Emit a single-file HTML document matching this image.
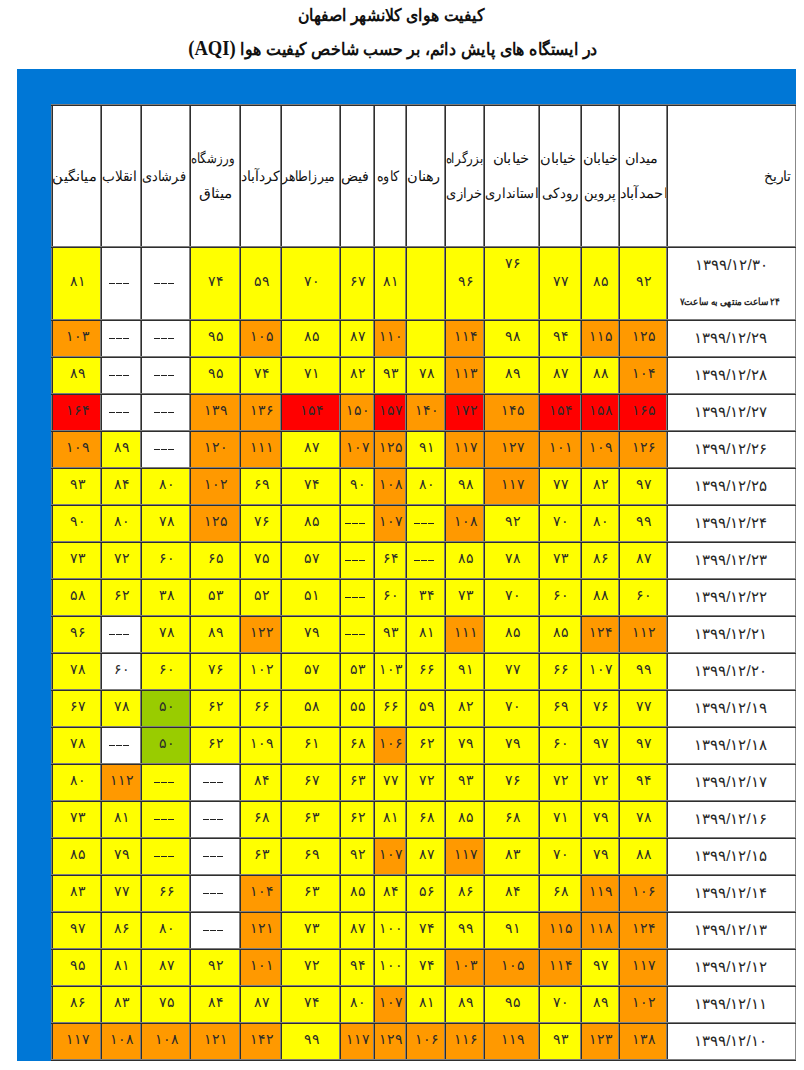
<!DOCTYPE html>
<html lang="fa"><head><meta charset="utf-8"><title>AQI Isfahan</title>
<style>
html,body{margin:0;padding:0;background:#fff}
body{width:804px;height:1070px;position:relative;font-family:"Liberation Sans",sans-serif;color:#111}
.t{position:absolute;left:0;width:804px;text-align:center;font-weight:bold;white-space:nowrap;direction:rtl}
.blue{position:absolute;left:17px;top:69px;width:779px;height:992px;background:#0077d6}
.c{position:absolute;display:flex;align-items:center;justify-content:center;text-align:center;direction:rtl;font-size:14px;line-height:16px;overflow:visible;white-space:nowrap}
.h{font-size:14px;line-height:35px}
.d{font-size:15px;color:#262626}
.n{font-size:14px}
.nv{position:relative;top:-3px;left:1px;color:#2a2a2a}
.dt{display:inline-block;position:relative;top:-1px;left:-1px}
.dash{display:inline-block;position:relative;left:-2px;width:20px;height:1px;background:repeating-linear-gradient(90deg,#222 0 6px,transparent 6px 7px);color:transparent;font-size:1px;overflow:hidden}
.vl{position:absolute;top:104px;height:957px;width:1px}
.hl{position:absolute;left:51px;width:745px;height:1px}
.lt{background:#7c7c7c}.dk{background:#2e2e2e}
</style></head><body><div id="pg" style="position:absolute;left:0;top:0;width:804px;height:1070px;overflow:hidden">
<div class="t" style="top:5px;font-size:17px;line-height:22px;left:-11px;transform:scaleX(0.92)">کیفیت هوای کلانشهر اصفهان</div>
<div class="t" style="top:37px;font-size:17px;line-height:22px;left:-9px;transform:scaleX(0.93)">در ایستگاه های پایش دائم، بر حسب شاخص کیفیت هوا <b style="font-family:'Liberation Serif',serif;font-size:20px">(AQI)</b></div>
<div class="blue"></div>
<div class="c h" style="left:53px;top:106px;width:47px;height:140px;background:#fff;"><div><span style="display:inline-block;transform:translateX(-1.9px) scaleX(1.042)">میانگین</span></div></div>
<div class="c h" style="left:102px;top:106px;width:38px;height:140px;background:#fff;"><div><span style="display:inline-block;transform:translateX(-1.4px) scaleX(0.976)">انقلاب</span></div></div>
<div class="c h" style="left:142px;top:106px;width:47px;height:140px;background:#fff;"><div><span style="display:inline-block;transform:translateX(-1.8px) scaleX(0.920)">فرشادی</span></div></div>
<div class="c h" style="left:191px;top:106px;width:48px;height:140px;background:#fff;"><div><span style="display:inline-block;transform:translateX(-2.1px) scaleX(0.836)">ورزشگاه</span><br><span style="display:inline-block;transform:translateX(0.3px) scaleX(1.096)">میثاق</span></div></div>
<div class="c h" style="left:241px;top:106px;width:39px;height:140px;background:#fff;"><div><span style="display:inline-block;transform:translateX(0.4px) scaleX(1.000)">کردآباد</span></div></div>
<div class="c h" style="left:282px;top:106px;width:57px;height:140px;background:#fff;"><div><span style="display:inline-block;transform:translateX(-2.1px) scaleX(0.876)">میرزاطاهر</span></div></div>
<div class="c h" style="left:341px;top:106px;width:32px;height:140px;background:#fff;"><div><span style="display:inline-block;transform:translateX(-2.2px) scaleX(1.015)">فیض</span></div></div>
<div class="c h" style="left:375px;top:106px;width:30px;height:140px;background:#fff;"><div><span style="display:inline-block;transform:translateX(-2.1px) scaleX(0.904)">کاوه</span></div></div>
<div class="c h" style="left:407px;top:106px;width:37px;height:140px;background:#fff;"><div><span style="display:inline-block;transform:translateX(-2.1px) scaleX(1.037)">رهنان</span></div></div>
<div class="c h" style="left:446px;top:106px;width:37px;height:140px;background:#fff;"><div><span style="display:inline-block;transform:translateX(-0.0px) scaleX(0.844)">بزرگراه</span><br><span style="display:inline-block;transform:translateX(0.1px) scaleX(0.932)">خرازی</span></div></div>
<div class="c h" style="left:485px;top:106px;width:53px;height:140px;background:#fff;"><div><span style="display:inline-block;transform:translateX(-0.4px) scaleX(1.058)">خیابان</span><br><span style="display:inline-block;transform:translateX(0.2px) scaleX(0.936)">استانداری</span></div></div>
<div class="c h" style="left:540px;top:106px;width:40px;height:140px;background:#fff;"><div><span style="display:inline-block;transform:translateX(-2.0px) scaleX(1.033)">خیابان</span><br><span style="display:inline-block;transform:translateX(0.0px) scaleX(0.954)">رودکی</span></div></div>
<div class="c h" style="left:582px;top:106px;width:36px;height:140px;background:#fff;"><div><span style="display:inline-block;transform:translateX(0.1px) scaleX(1.024)">خیابان</span><br><span style="display:inline-block;transform:translateX(-0.0px) scaleX(0.930)">پروین</span></div></div>
<div class="c h" style="left:620px;top:106px;width:46px;height:140px;background:#fff;"><div><span style="display:inline-block;transform:translateX(-2.0px) scaleX(1.023)">میدان</span><br><span style="display:inline-block;transform:translateX(0.8px) scaleX(1.052)">احمدآباد</span></div></div>
<div class="c h" style="left:668px;top:106px;width:127px;height:140px;background:#fff;"><div><span style="display:inline-block;transform:translateX(45.5px) scaleX(0.989)">تاریخ</span></div></div>
<div class="c n" style="left:53px;top:248px;width:47px;height:71px;background:#ffff00;"><span class="nv">۸۱</span></div>
<div class="c n" style="left:102px;top:248px;width:38px;height:71px;background:#ffffff;"><span class="dash">---</span></div>
<div class="c n" style="left:142px;top:248px;width:47px;height:71px;background:#ffffff;"><span class="dash">---</span></div>
<div class="c n" style="left:191px;top:248px;width:48px;height:71px;background:#ffff00;"><span class="nv">۷۴</span></div>
<div class="c n" style="left:241px;top:248px;width:39px;height:71px;background:#ffff00;"><span class="nv">۵۹</span></div>
<div class="c n" style="left:282px;top:248px;width:57px;height:71px;background:#ffff00;"><span class="nv">۷۰</span></div>
<div class="c n" style="left:341px;top:248px;width:32px;height:71px;background:#ffff00;"><span class="nv">۶۷</span></div>
<div class="c n" style="left:375px;top:248px;width:30px;height:71px;background:#ffff00;"><span class="nv">۸۱</span></div>
<div class="c n" style="left:407px;top:248px;width:37px;height:71px;background:#ffff00;"></div>
<div class="c n" style="left:446px;top:248px;width:37px;height:71px;background:#ffff00;"><span class="nv">۹۶</span></div>
<div class="c n" style="left:485px;top:248px;width:53px;height:71px;background:#ffff00;align-items:flex-start;padding-top:10px;box-sizing:border-box"><span class="nv">۷۶</span></div>
<div class="c n" style="left:540px;top:248px;width:40px;height:71px;background:#ffff00;"><span class="nv">۷۷</span></div>
<div class="c n" style="left:582px;top:248px;width:36px;height:71px;background:#ffff00;"><span class="nv">۸۵</span></div>
<div class="c n" style="left:620px;top:248px;width:46px;height:71px;background:#ffff00;"><span class="nv">۹۲</span></div>
<div class="c d" style="left:668px;top:248px;width:127px;height:71px;background:#fff;"><div><div>۱۳۹۹/۱۲/۳۰</div><div style="font-size:10px;font-weight:bold;margin-top:21px;transform:translateX(-1.4px) scaleX(0.885)">۲۴ ساعت منتهی به ساعت۷</div></div></div>
<div class="c n" style="left:53px;top:321px;width:47px;height:35px;background:#ff9900;"><span class="nv">۱۰۳</span></div>
<div class="c n" style="left:102px;top:321px;width:38px;height:35px;background:#ffffff;"><span class="dash">---</span></div>
<div class="c n" style="left:142px;top:321px;width:47px;height:35px;background:#ffffff;"><span class="dash">---</span></div>
<div class="c n" style="left:191px;top:321px;width:48px;height:35px;background:#ffff00;"><span class="nv">۹۵</span></div>
<div class="c n" style="left:241px;top:321px;width:39px;height:35px;background:#ff9900;"><span class="nv">۱۰۵</span></div>
<div class="c n" style="left:282px;top:321px;width:57px;height:35px;background:#ffff00;"><span class="nv">۸۵</span></div>
<div class="c n" style="left:341px;top:321px;width:32px;height:35px;background:#ffff00;"><span class="nv">۸۷</span></div>
<div class="c n" style="left:375px;top:321px;width:30px;height:35px;background:#ff9900;"><span class="nv">۱۱۰</span></div>
<div class="c n" style="left:407px;top:321px;width:37px;height:35px;background:#ffff00;"></div>
<div class="c n" style="left:446px;top:321px;width:37px;height:35px;background:#ff9900;"><span class="nv">۱۱۴</span></div>
<div class="c n" style="left:485px;top:321px;width:53px;height:35px;background:#ffff00;"><span class="nv">۹۸</span></div>
<div class="c n" style="left:540px;top:321px;width:40px;height:35px;background:#ffff00;"><span class="nv">۹۴</span></div>
<div class="c n" style="left:582px;top:321px;width:36px;height:35px;background:#ff9900;"><span class="nv">۱۱۵</span></div>
<div class="c n" style="left:620px;top:321px;width:46px;height:35px;background:#ff9900;"><span class="nv">۱۲۵</span></div>
<div class="c d" style="left:668px;top:321px;width:127px;height:35px;background:#fff;"><span class="dt">۱۳۹۹/۱۲/۲۹</span></div>
<div class="c n" style="left:53px;top:358px;width:47px;height:35px;background:#ffff00;"><span class="nv">۸۹</span></div>
<div class="c n" style="left:102px;top:358px;width:38px;height:35px;background:#ffffff;"><span class="dash">---</span></div>
<div class="c n" style="left:142px;top:358px;width:47px;height:35px;background:#ffffff;"><span class="dash">---</span></div>
<div class="c n" style="left:191px;top:358px;width:48px;height:35px;background:#ffff00;"><span class="nv">۹۵</span></div>
<div class="c n" style="left:241px;top:358px;width:39px;height:35px;background:#ffff00;"><span class="nv">۷۴</span></div>
<div class="c n" style="left:282px;top:358px;width:57px;height:35px;background:#ffff00;"><span class="nv">۷۱</span></div>
<div class="c n" style="left:341px;top:358px;width:32px;height:35px;background:#ffff00;"><span class="nv">۸۲</span></div>
<div class="c n" style="left:375px;top:358px;width:30px;height:35px;background:#ffff00;"><span class="nv">۹۳</span></div>
<div class="c n" style="left:407px;top:358px;width:37px;height:35px;background:#ffff00;"><span class="nv">۷۸</span></div>
<div class="c n" style="left:446px;top:358px;width:37px;height:35px;background:#ff9900;"><span class="nv">۱۱۳</span></div>
<div class="c n" style="left:485px;top:358px;width:53px;height:35px;background:#ffff00;"><span class="nv">۸۹</span></div>
<div class="c n" style="left:540px;top:358px;width:40px;height:35px;background:#ffff00;"><span class="nv">۸۷</span></div>
<div class="c n" style="left:582px;top:358px;width:36px;height:35px;background:#ffff00;"><span class="nv">۸۸</span></div>
<div class="c n" style="left:620px;top:358px;width:46px;height:35px;background:#ff9900;"><span class="nv">۱۰۴</span></div>
<div class="c d" style="left:668px;top:358px;width:127px;height:35px;background:#fff;"><span class="dt">۱۳۹۹/۱۲/۲۸</span></div>
<div class="c n" style="left:53px;top:395px;width:47px;height:35px;background:#ff0000;"><span class="nv">۱۶۴</span></div>
<div class="c n" style="left:102px;top:395px;width:38px;height:35px;background:#ffffff;"><span class="dash">---</span></div>
<div class="c n" style="left:142px;top:395px;width:47px;height:35px;background:#ffffff;"><span class="dash">---</span></div>
<div class="c n" style="left:191px;top:395px;width:48px;height:35px;background:#ff9900;"><span class="nv">۱۳۹</span></div>
<div class="c n" style="left:241px;top:395px;width:39px;height:35px;background:#ff9900;"><span class="nv">۱۳۶</span></div>
<div class="c n" style="left:282px;top:395px;width:57px;height:35px;background:#ff0000;"><span class="nv">۱۵۴</span></div>
<div class="c n" style="left:341px;top:395px;width:32px;height:35px;background:#ff9900;"><span class="nv">۱۵۰</span></div>
<div class="c n" style="left:375px;top:395px;width:30px;height:35px;background:#ff0000;"><span class="nv">۱۵۷</span></div>
<div class="c n" style="left:407px;top:395px;width:37px;height:35px;background:#ff9900;"><span class="nv">۱۴۰</span></div>
<div class="c n" style="left:446px;top:395px;width:37px;height:35px;background:#ff0000;"><span class="nv">۱۷۲</span></div>
<div class="c n" style="left:485px;top:395px;width:53px;height:35px;background:#ff9900;"><span class="nv">۱۴۵</span></div>
<div class="c n" style="left:540px;top:395px;width:40px;height:35px;background:#ff0000;"><span class="nv">۱۵۴</span></div>
<div class="c n" style="left:582px;top:395px;width:36px;height:35px;background:#ff0000;"><span class="nv">۱۵۸</span></div>
<div class="c n" style="left:620px;top:395px;width:46px;height:35px;background:#ff0000;"><span class="nv">۱۶۵</span></div>
<div class="c d" style="left:668px;top:395px;width:127px;height:35px;background:#fff;"><span class="dt">۱۳۹۹/۱۲/۲۷</span></div>
<div class="c n" style="left:53px;top:432px;width:47px;height:35px;background:#ff9900;"><span class="nv">۱۰۹</span></div>
<div class="c n" style="left:102px;top:432px;width:38px;height:35px;background:#ffff00;"><span class="nv">۸۹</span></div>
<div class="c n" style="left:142px;top:432px;width:47px;height:35px;background:#ffffff;"><span class="dash">---</span></div>
<div class="c n" style="left:191px;top:432px;width:48px;height:35px;background:#ff9900;"><span class="nv">۱۲۰</span></div>
<div class="c n" style="left:241px;top:432px;width:39px;height:35px;background:#ff9900;"><span class="nv">۱۱۱</span></div>
<div class="c n" style="left:282px;top:432px;width:57px;height:35px;background:#ffff00;"><span class="nv">۸۷</span></div>
<div class="c n" style="left:341px;top:432px;width:32px;height:35px;background:#ff9900;"><span class="nv">۱۰۷</span></div>
<div class="c n" style="left:375px;top:432px;width:30px;height:35px;background:#ff9900;"><span class="nv">۱۲۵</span></div>
<div class="c n" style="left:407px;top:432px;width:37px;height:35px;background:#ffff00;"><span class="nv">۹۱</span></div>
<div class="c n" style="left:446px;top:432px;width:37px;height:35px;background:#ff9900;"><span class="nv">۱۱۷</span></div>
<div class="c n" style="left:485px;top:432px;width:53px;height:35px;background:#ff9900;"><span class="nv">۱۲۷</span></div>
<div class="c n" style="left:540px;top:432px;width:40px;height:35px;background:#ff9900;"><span class="nv">۱۰۱</span></div>
<div class="c n" style="left:582px;top:432px;width:36px;height:35px;background:#ff9900;"><span class="nv">۱۰۹</span></div>
<div class="c n" style="left:620px;top:432px;width:46px;height:35px;background:#ff9900;"><span class="nv">۱۲۶</span></div>
<div class="c d" style="left:668px;top:432px;width:127px;height:35px;background:#fff;"><span class="dt">۱۳۹۹/۱۲/۲۶</span></div>
<div class="c n" style="left:53px;top:469px;width:47px;height:35px;background:#ffff00;"><span class="nv">۹۳</span></div>
<div class="c n" style="left:102px;top:469px;width:38px;height:35px;background:#ffff00;"><span class="nv">۸۴</span></div>
<div class="c n" style="left:142px;top:469px;width:47px;height:35px;background:#ffff00;"><span class="nv">۸۰</span></div>
<div class="c n" style="left:191px;top:469px;width:48px;height:35px;background:#ff9900;"><span class="nv">۱۰۲</span></div>
<div class="c n" style="left:241px;top:469px;width:39px;height:35px;background:#ffff00;"><span class="nv">۶۹</span></div>
<div class="c n" style="left:282px;top:469px;width:57px;height:35px;background:#ffff00;"><span class="nv">۷۴</span></div>
<div class="c n" style="left:341px;top:469px;width:32px;height:35px;background:#ffff00;"><span class="nv">۹۰</span></div>
<div class="c n" style="left:375px;top:469px;width:30px;height:35px;background:#ff9900;"><span class="nv">۱۰۸</span></div>
<div class="c n" style="left:407px;top:469px;width:37px;height:35px;background:#ffff00;"><span class="nv">۸۰</span></div>
<div class="c n" style="left:446px;top:469px;width:37px;height:35px;background:#ffff00;"><span class="nv">۹۸</span></div>
<div class="c n" style="left:485px;top:469px;width:53px;height:35px;background:#ff9900;"><span class="nv">۱۱۷</span></div>
<div class="c n" style="left:540px;top:469px;width:40px;height:35px;background:#ffff00;"><span class="nv">۷۷</span></div>
<div class="c n" style="left:582px;top:469px;width:36px;height:35px;background:#ffff00;"><span class="nv">۸۲</span></div>
<div class="c n" style="left:620px;top:469px;width:46px;height:35px;background:#ffff00;"><span class="nv">۹۷</span></div>
<div class="c d" style="left:668px;top:469px;width:127px;height:35px;background:#fff;"><span class="dt">۱۳۹۹/۱۲/۲۵</span></div>
<div class="c n" style="left:53px;top:506px;width:47px;height:35px;background:#ffff00;"><span class="nv">۹۰</span></div>
<div class="c n" style="left:102px;top:506px;width:38px;height:35px;background:#ffff00;"><span class="nv">۸۰</span></div>
<div class="c n" style="left:142px;top:506px;width:47px;height:35px;background:#ffff00;"><span class="nv">۷۸</span></div>
<div class="c n" style="left:191px;top:506px;width:48px;height:35px;background:#ff9900;"><span class="nv">۱۲۵</span></div>
<div class="c n" style="left:241px;top:506px;width:39px;height:35px;background:#ffff00;"><span class="nv">۷۶</span></div>
<div class="c n" style="left:282px;top:506px;width:57px;height:35px;background:#ffff00;"><span class="nv">۸۵</span></div>
<div class="c n" style="left:341px;top:506px;width:32px;height:35px;background:#ffff00;"><span class="dash">---</span></div>
<div class="c n" style="left:375px;top:506px;width:30px;height:35px;background:#ff9900;"><span class="nv">۱۰۷</span></div>
<div class="c n" style="left:407px;top:506px;width:37px;height:35px;background:#ffff00;"><span class="dash">---</span></div>
<div class="c n" style="left:446px;top:506px;width:37px;height:35px;background:#ff9900;"><span class="nv">۱۰۸</span></div>
<div class="c n" style="left:485px;top:506px;width:53px;height:35px;background:#ffff00;"><span class="nv">۹۲</span></div>
<div class="c n" style="left:540px;top:506px;width:40px;height:35px;background:#ffff00;"><span class="nv">۷۰</span></div>
<div class="c n" style="left:582px;top:506px;width:36px;height:35px;background:#ffff00;"><span class="nv">۸۰</span></div>
<div class="c n" style="left:620px;top:506px;width:46px;height:35px;background:#ffff00;"><span class="nv">۹۹</span></div>
<div class="c d" style="left:668px;top:506px;width:127px;height:35px;background:#fff;"><span class="dt">۱۳۹۹/۱۲/۲۴</span></div>
<div class="c n" style="left:53px;top:543px;width:47px;height:35px;background:#ffff00;"><span class="nv">۷۳</span></div>
<div class="c n" style="left:102px;top:543px;width:38px;height:35px;background:#ffff00;"><span class="nv">۷۲</span></div>
<div class="c n" style="left:142px;top:543px;width:47px;height:35px;background:#ffff00;"><span class="nv">۶۰</span></div>
<div class="c n" style="left:191px;top:543px;width:48px;height:35px;background:#ffff00;"><span class="nv">۶۵</span></div>
<div class="c n" style="left:241px;top:543px;width:39px;height:35px;background:#ffff00;"><span class="nv">۷۵</span></div>
<div class="c n" style="left:282px;top:543px;width:57px;height:35px;background:#ffff00;"><span class="nv">۵۷</span></div>
<div class="c n" style="left:341px;top:543px;width:32px;height:35px;background:#ffff00;"><span class="dash">---</span></div>
<div class="c n" style="left:375px;top:543px;width:30px;height:35px;background:#ffff00;"><span class="nv">۶۴</span></div>
<div class="c n" style="left:407px;top:543px;width:37px;height:35px;background:#ffff00;"><span class="dash">---</span></div>
<div class="c n" style="left:446px;top:543px;width:37px;height:35px;background:#ffff00;"><span class="nv">۸۵</span></div>
<div class="c n" style="left:485px;top:543px;width:53px;height:35px;background:#ffff00;"><span class="nv">۷۸</span></div>
<div class="c n" style="left:540px;top:543px;width:40px;height:35px;background:#ffff00;"><span class="nv">۷۳</span></div>
<div class="c n" style="left:582px;top:543px;width:36px;height:35px;background:#ffff00;"><span class="nv">۸۶</span></div>
<div class="c n" style="left:620px;top:543px;width:46px;height:35px;background:#ffff00;"><span class="nv">۸۷</span></div>
<div class="c d" style="left:668px;top:543px;width:127px;height:35px;background:#fff;"><span class="dt">۱۳۹۹/۱۲/۲۳</span></div>
<div class="c n" style="left:53px;top:580px;width:47px;height:35px;background:#ffff00;"><span class="nv">۵۸</span></div>
<div class="c n" style="left:102px;top:580px;width:38px;height:35px;background:#ffff00;"><span class="nv">۶۲</span></div>
<div class="c n" style="left:142px;top:580px;width:47px;height:35px;background:#ffff00;"><span class="nv">۳۸</span></div>
<div class="c n" style="left:191px;top:580px;width:48px;height:35px;background:#ffff00;"><span class="nv">۵۳</span></div>
<div class="c n" style="left:241px;top:580px;width:39px;height:35px;background:#ffff00;"><span class="nv">۵۲</span></div>
<div class="c n" style="left:282px;top:580px;width:57px;height:35px;background:#ffff00;"><span class="nv">۵۱</span></div>
<div class="c n" style="left:341px;top:580px;width:32px;height:35px;background:#ffff00;"><span class="dash">---</span></div>
<div class="c n" style="left:375px;top:580px;width:30px;height:35px;background:#ffff00;"><span class="nv">۶۰</span></div>
<div class="c n" style="left:407px;top:580px;width:37px;height:35px;background:#ffff00;"><span class="nv">۳۴</span></div>
<div class="c n" style="left:446px;top:580px;width:37px;height:35px;background:#ffff00;"><span class="nv">۷۳</span></div>
<div class="c n" style="left:485px;top:580px;width:53px;height:35px;background:#ffff00;"><span class="nv">۷۰</span></div>
<div class="c n" style="left:540px;top:580px;width:40px;height:35px;background:#ffff00;"><span class="nv">۶۰</span></div>
<div class="c n" style="left:582px;top:580px;width:36px;height:35px;background:#ffff00;"><span class="nv">۸۸</span></div>
<div class="c n" style="left:620px;top:580px;width:46px;height:35px;background:#ffff00;"><span class="nv">۶۰</span></div>
<div class="c d" style="left:668px;top:580px;width:127px;height:35px;background:#fff;"><span class="dt">۱۳۹۹/۱۲/۲۲</span></div>
<div class="c n" style="left:53px;top:617px;width:47px;height:35px;background:#ffff00;"><span class="nv">۹۶</span></div>
<div class="c n" style="left:102px;top:617px;width:38px;height:35px;background:#ffffff;"><span class="dash">---</span></div>
<div class="c n" style="left:142px;top:617px;width:47px;height:35px;background:#ffff00;"><span class="nv">۷۸</span></div>
<div class="c n" style="left:191px;top:617px;width:48px;height:35px;background:#ffff00;"><span class="nv">۸۹</span></div>
<div class="c n" style="left:241px;top:617px;width:39px;height:35px;background:#ff9900;"><span class="nv">۱۲۲</span></div>
<div class="c n" style="left:282px;top:617px;width:57px;height:35px;background:#ffff00;"><span class="nv">۷۹</span></div>
<div class="c n" style="left:341px;top:617px;width:32px;height:35px;background:#ffff00;"><span class="dash">---</span></div>
<div class="c n" style="left:375px;top:617px;width:30px;height:35px;background:#ffff00;"><span class="nv">۹۳</span></div>
<div class="c n" style="left:407px;top:617px;width:37px;height:35px;background:#ffff00;"><span class="nv">۸۱</span></div>
<div class="c n" style="left:446px;top:617px;width:37px;height:35px;background:#ff9900;"><span class="nv">۱۱۱</span></div>
<div class="c n" style="left:485px;top:617px;width:53px;height:35px;background:#ffff00;"><span class="nv">۸۵</span></div>
<div class="c n" style="left:540px;top:617px;width:40px;height:35px;background:#ffff00;"><span class="nv">۸۵</span></div>
<div class="c n" style="left:582px;top:617px;width:36px;height:35px;background:#ff9900;"><span class="nv">۱۲۴</span></div>
<div class="c n" style="left:620px;top:617px;width:46px;height:35px;background:#ff9900;"><span class="nv">۱۱۲</span></div>
<div class="c d" style="left:668px;top:617px;width:127px;height:35px;background:#fff;"><span class="dt">۱۳۹۹/۱۲/۲۱</span></div>
<div class="c n" style="left:53px;top:654px;width:47px;height:35px;background:#ffff00;"><span class="nv">۷۸</span></div>
<div class="c n" style="left:102px;top:654px;width:38px;height:35px;background:#ffffff;"><span class="nv">۶۰</span></div>
<div class="c n" style="left:142px;top:654px;width:47px;height:35px;background:#ffff00;"><span class="nv">۶۰</span></div>
<div class="c n" style="left:191px;top:654px;width:48px;height:35px;background:#ffff00;"><span class="nv">۷۶</span></div>
<div class="c n" style="left:241px;top:654px;width:39px;height:35px;background:#ffff00;"><span class="nv">۱۰۲</span></div>
<div class="c n" style="left:282px;top:654px;width:57px;height:35px;background:#ffff00;"><span class="nv">۵۷</span></div>
<div class="c n" style="left:341px;top:654px;width:32px;height:35px;background:#ffff00;"><span class="nv">۵۳</span></div>
<div class="c n" style="left:375px;top:654px;width:30px;height:35px;background:#ffff00;"><span class="nv">۱۰۳</span></div>
<div class="c n" style="left:407px;top:654px;width:37px;height:35px;background:#ffff00;"><span class="nv">۶۶</span></div>
<div class="c n" style="left:446px;top:654px;width:37px;height:35px;background:#ffff00;"><span class="nv">۹۱</span></div>
<div class="c n" style="left:485px;top:654px;width:53px;height:35px;background:#ffff00;"><span class="nv">۷۷</span></div>
<div class="c n" style="left:540px;top:654px;width:40px;height:35px;background:#ffff00;"><span class="nv">۶۶</span></div>
<div class="c n" style="left:582px;top:654px;width:36px;height:35px;background:#ffff00;"><span class="nv">۱۰۷</span></div>
<div class="c n" style="left:620px;top:654px;width:46px;height:35px;background:#ffff00;"><span class="nv">۹۹</span></div>
<div class="c d" style="left:668px;top:654px;width:127px;height:35px;background:#fff;"><span class="dt">۱۳۹۹/۱۲/۲۰</span></div>
<div class="c n" style="left:53px;top:691px;width:47px;height:35px;background:#ffff00;"><span class="nv">۶۷</span></div>
<div class="c n" style="left:102px;top:691px;width:38px;height:35px;background:#ffff00;"><span class="nv">۷۸</span></div>
<div class="c n" style="left:142px;top:691px;width:47px;height:35px;background:#99cc00;"><span class="nv">۵۰</span></div>
<div class="c n" style="left:191px;top:691px;width:48px;height:35px;background:#ffff00;"><span class="nv">۶۲</span></div>
<div class="c n" style="left:241px;top:691px;width:39px;height:35px;background:#ffff00;"><span class="nv">۶۶</span></div>
<div class="c n" style="left:282px;top:691px;width:57px;height:35px;background:#ffff00;"><span class="nv">۵۸</span></div>
<div class="c n" style="left:341px;top:691px;width:32px;height:35px;background:#ffff00;"><span class="nv">۵۵</span></div>
<div class="c n" style="left:375px;top:691px;width:30px;height:35px;background:#ffff00;"><span class="nv">۶۶</span></div>
<div class="c n" style="left:407px;top:691px;width:37px;height:35px;background:#ffff00;"><span class="nv">۵۹</span></div>
<div class="c n" style="left:446px;top:691px;width:37px;height:35px;background:#ffff00;"><span class="nv">۸۲</span></div>
<div class="c n" style="left:485px;top:691px;width:53px;height:35px;background:#ffff00;"><span class="nv">۷۰</span></div>
<div class="c n" style="left:540px;top:691px;width:40px;height:35px;background:#ffff00;"><span class="nv">۶۹</span></div>
<div class="c n" style="left:582px;top:691px;width:36px;height:35px;background:#ffff00;"><span class="nv">۷۶</span></div>
<div class="c n" style="left:620px;top:691px;width:46px;height:35px;background:#ffff00;"><span class="nv">۷۷</span></div>
<div class="c d" style="left:668px;top:691px;width:127px;height:35px;background:#fff;"><span class="dt">۱۳۹۹/۱۲/۱۹</span></div>
<div class="c n" style="left:53px;top:728px;width:47px;height:35px;background:#ffff00;"><span class="nv">۷۸</span></div>
<div class="c n" style="left:102px;top:728px;width:38px;height:35px;background:#ffffff;"><span class="dash">---</span></div>
<div class="c n" style="left:142px;top:728px;width:47px;height:35px;background:#99cc00;"><span class="nv">۵۰</span></div>
<div class="c n" style="left:191px;top:728px;width:48px;height:35px;background:#ffff00;"><span class="nv">۶۲</span></div>
<div class="c n" style="left:241px;top:728px;width:39px;height:35px;background:#ffff00;"><span class="nv">۱۰۹</span></div>
<div class="c n" style="left:282px;top:728px;width:57px;height:35px;background:#ffff00;"><span class="nv">۶۱</span></div>
<div class="c n" style="left:341px;top:728px;width:32px;height:35px;background:#ffff00;"><span class="nv">۶۸</span></div>
<div class="c n" style="left:375px;top:728px;width:30px;height:35px;background:#ff9900;"><span class="nv">۱۰۶</span></div>
<div class="c n" style="left:407px;top:728px;width:37px;height:35px;background:#ffff00;"><span class="nv">۶۲</span></div>
<div class="c n" style="left:446px;top:728px;width:37px;height:35px;background:#ffff00;"><span class="nv">۷۹</span></div>
<div class="c n" style="left:485px;top:728px;width:53px;height:35px;background:#ffff00;"><span class="nv">۷۹</span></div>
<div class="c n" style="left:540px;top:728px;width:40px;height:35px;background:#ffff00;"><span class="nv">۶۰</span></div>
<div class="c n" style="left:582px;top:728px;width:36px;height:35px;background:#ffff00;"><span class="nv">۹۷</span></div>
<div class="c n" style="left:620px;top:728px;width:46px;height:35px;background:#ffff00;"><span class="nv">۹۷</span></div>
<div class="c d" style="left:668px;top:728px;width:127px;height:35px;background:#fff;"><span class="dt">۱۳۹۹/۱۲/۱۸</span></div>
<div class="c n" style="left:53px;top:765px;width:47px;height:35px;background:#ffff00;"><span class="nv">۸۰</span></div>
<div class="c n" style="left:102px;top:765px;width:38px;height:35px;background:#ff9900;"><span class="nv">۱۱۲</span></div>
<div class="c n" style="left:142px;top:765px;width:47px;height:35px;background:#ffff00;"><span class="dash">---</span></div>
<div class="c n" style="left:191px;top:765px;width:48px;height:35px;background:#ffffff;"><span class="dash">---</span></div>
<div class="c n" style="left:241px;top:765px;width:39px;height:35px;background:#ffff00;"><span class="nv">۸۴</span></div>
<div class="c n" style="left:282px;top:765px;width:57px;height:35px;background:#ffff00;"><span class="nv">۶۷</span></div>
<div class="c n" style="left:341px;top:765px;width:32px;height:35px;background:#ffff00;"><span class="nv">۶۳</span></div>
<div class="c n" style="left:375px;top:765px;width:30px;height:35px;background:#ffff00;"><span class="nv">۷۷</span></div>
<div class="c n" style="left:407px;top:765px;width:37px;height:35px;background:#ffff00;"><span class="nv">۷۲</span></div>
<div class="c n" style="left:446px;top:765px;width:37px;height:35px;background:#ffff00;"><span class="nv">۹۳</span></div>
<div class="c n" style="left:485px;top:765px;width:53px;height:35px;background:#ffff00;"><span class="nv">۷۶</span></div>
<div class="c n" style="left:540px;top:765px;width:40px;height:35px;background:#ffff00;"><span class="nv">۷۲</span></div>
<div class="c n" style="left:582px;top:765px;width:36px;height:35px;background:#ffff00;"><span class="nv">۷۲</span></div>
<div class="c n" style="left:620px;top:765px;width:46px;height:35px;background:#ffff00;"><span class="nv">۹۴</span></div>
<div class="c d" style="left:668px;top:765px;width:127px;height:35px;background:#fff;"><span class="dt">۱۳۹۹/۱۲/۱۷</span></div>
<div class="c n" style="left:53px;top:802px;width:47px;height:35px;background:#ffff00;"><span class="nv">۷۳</span></div>
<div class="c n" style="left:102px;top:802px;width:38px;height:35px;background:#ffff00;"><span class="nv">۸۱</span></div>
<div class="c n" style="left:142px;top:802px;width:47px;height:35px;background:#ffff00;"><span class="dash">---</span></div>
<div class="c n" style="left:191px;top:802px;width:48px;height:35px;background:#ffffff;"><span class="dash">---</span></div>
<div class="c n" style="left:241px;top:802px;width:39px;height:35px;background:#ffff00;"><span class="nv">۶۸</span></div>
<div class="c n" style="left:282px;top:802px;width:57px;height:35px;background:#ffff00;"><span class="nv">۶۳</span></div>
<div class="c n" style="left:341px;top:802px;width:32px;height:35px;background:#ffff00;"><span class="nv">۶۲</span></div>
<div class="c n" style="left:375px;top:802px;width:30px;height:35px;background:#ffff00;"><span class="nv">۸۱</span></div>
<div class="c n" style="left:407px;top:802px;width:37px;height:35px;background:#ffff00;"><span class="nv">۶۸</span></div>
<div class="c n" style="left:446px;top:802px;width:37px;height:35px;background:#ffff00;"><span class="nv">۸۵</span></div>
<div class="c n" style="left:485px;top:802px;width:53px;height:35px;background:#ffff00;"><span class="nv">۶۸</span></div>
<div class="c n" style="left:540px;top:802px;width:40px;height:35px;background:#ffff00;"><span class="nv">۷۱</span></div>
<div class="c n" style="left:582px;top:802px;width:36px;height:35px;background:#ffff00;"><span class="nv">۷۹</span></div>
<div class="c n" style="left:620px;top:802px;width:46px;height:35px;background:#ffff00;"><span class="nv">۷۸</span></div>
<div class="c d" style="left:668px;top:802px;width:127px;height:35px;background:#fff;"><span class="dt">۱۳۹۹/۱۲/۱۶</span></div>
<div class="c n" style="left:53px;top:839px;width:47px;height:35px;background:#ffff00;"><span class="nv">۸۵</span></div>
<div class="c n" style="left:102px;top:839px;width:38px;height:35px;background:#ffff00;"><span class="nv">۷۹</span></div>
<div class="c n" style="left:142px;top:839px;width:47px;height:35px;background:#ffff00;"><span class="dash">---</span></div>
<div class="c n" style="left:191px;top:839px;width:48px;height:35px;background:#ffffff;"><span class="dash">---</span></div>
<div class="c n" style="left:241px;top:839px;width:39px;height:35px;background:#ffff00;"><span class="nv">۶۳</span></div>
<div class="c n" style="left:282px;top:839px;width:57px;height:35px;background:#ffff00;"><span class="nv">۶۹</span></div>
<div class="c n" style="left:341px;top:839px;width:32px;height:35px;background:#ffff00;"><span class="nv">۹۲</span></div>
<div class="c n" style="left:375px;top:839px;width:30px;height:35px;background:#ff9900;"><span class="nv">۱۰۷</span></div>
<div class="c n" style="left:407px;top:839px;width:37px;height:35px;background:#ffff00;"><span class="nv">۸۷</span></div>
<div class="c n" style="left:446px;top:839px;width:37px;height:35px;background:#ff9900;"><span class="nv">۱۱۷</span></div>
<div class="c n" style="left:485px;top:839px;width:53px;height:35px;background:#ffff00;"><span class="nv">۸۳</span></div>
<div class="c n" style="left:540px;top:839px;width:40px;height:35px;background:#ffff00;"><span class="nv">۷۰</span></div>
<div class="c n" style="left:582px;top:839px;width:36px;height:35px;background:#ffff00;"><span class="nv">۷۹</span></div>
<div class="c n" style="left:620px;top:839px;width:46px;height:35px;background:#ffff00;"><span class="nv">۸۸</span></div>
<div class="c d" style="left:668px;top:839px;width:127px;height:35px;background:#fff;"><span class="dt">۱۳۹۹/۱۲/۱۵</span></div>
<div class="c n" style="left:53px;top:876px;width:47px;height:35px;background:#ffff00;"><span class="nv">۸۳</span></div>
<div class="c n" style="left:102px;top:876px;width:38px;height:35px;background:#ffff00;"><span class="nv">۷۷</span></div>
<div class="c n" style="left:142px;top:876px;width:47px;height:35px;background:#ffff00;"><span class="nv">۶۶</span></div>
<div class="c n" style="left:191px;top:876px;width:48px;height:35px;background:#ffffff;"><span class="dash">---</span></div>
<div class="c n" style="left:241px;top:876px;width:39px;height:35px;background:#ff9900;"><span class="nv">۱۰۴</span></div>
<div class="c n" style="left:282px;top:876px;width:57px;height:35px;background:#ffff00;"><span class="nv">۶۳</span></div>
<div class="c n" style="left:341px;top:876px;width:32px;height:35px;background:#ffff00;"><span class="nv">۸۵</span></div>
<div class="c n" style="left:375px;top:876px;width:30px;height:35px;background:#ffff00;"><span class="nv">۸۴</span></div>
<div class="c n" style="left:407px;top:876px;width:37px;height:35px;background:#ffff00;"><span class="nv">۵۶</span></div>
<div class="c n" style="left:446px;top:876px;width:37px;height:35px;background:#ffff00;"><span class="nv">۸۶</span></div>
<div class="c n" style="left:485px;top:876px;width:53px;height:35px;background:#ffff00;"><span class="nv">۸۴</span></div>
<div class="c n" style="left:540px;top:876px;width:40px;height:35px;background:#ffff00;"><span class="nv">۶۸</span></div>
<div class="c n" style="left:582px;top:876px;width:36px;height:35px;background:#ff9900;"><span class="nv">۱۱۹</span></div>
<div class="c n" style="left:620px;top:876px;width:46px;height:35px;background:#ff9900;"><span class="nv">۱۰۶</span></div>
<div class="c d" style="left:668px;top:876px;width:127px;height:35px;background:#fff;"><span class="dt">۱۳۹۹/۱۲/۱۴</span></div>
<div class="c n" style="left:53px;top:913px;width:47px;height:35px;background:#ffff00;"><span class="nv">۹۷</span></div>
<div class="c n" style="left:102px;top:913px;width:38px;height:35px;background:#ffff00;"><span class="nv">۸۶</span></div>
<div class="c n" style="left:142px;top:913px;width:47px;height:35px;background:#ffff00;"><span class="nv">۸۰</span></div>
<div class="c n" style="left:191px;top:913px;width:48px;height:35px;background:#ffffff;"><span class="dash">---</span></div>
<div class="c n" style="left:241px;top:913px;width:39px;height:35px;background:#ff9900;"><span class="nv">۱۲۱</span></div>
<div class="c n" style="left:282px;top:913px;width:57px;height:35px;background:#ffff00;"><span class="nv">۷۳</span></div>
<div class="c n" style="left:341px;top:913px;width:32px;height:35px;background:#ffff00;"><span class="nv">۸۷</span></div>
<div class="c n" style="left:375px;top:913px;width:30px;height:35px;background:#ffff00;"><span class="nv">۱۰۰</span></div>
<div class="c n" style="left:407px;top:913px;width:37px;height:35px;background:#ffff00;"><span class="nv">۷۴</span></div>
<div class="c n" style="left:446px;top:913px;width:37px;height:35px;background:#ffff00;"><span class="nv">۹۹</span></div>
<div class="c n" style="left:485px;top:913px;width:53px;height:35px;background:#ffff00;"><span class="nv">۹۱</span></div>
<div class="c n" style="left:540px;top:913px;width:40px;height:35px;background:#ff9900;"><span class="nv">۱۱۵</span></div>
<div class="c n" style="left:582px;top:913px;width:36px;height:35px;background:#ff9900;"><span class="nv">۱۱۸</span></div>
<div class="c n" style="left:620px;top:913px;width:46px;height:35px;background:#ff9900;"><span class="nv">۱۲۴</span></div>
<div class="c d" style="left:668px;top:913px;width:127px;height:35px;background:#fff;"><span class="dt">۱۳۹۹/۱۲/۱۳</span></div>
<div class="c n" style="left:53px;top:950px;width:47px;height:35px;background:#ffff00;"><span class="nv">۹۵</span></div>
<div class="c n" style="left:102px;top:950px;width:38px;height:35px;background:#ffff00;"><span class="nv">۸۱</span></div>
<div class="c n" style="left:142px;top:950px;width:47px;height:35px;background:#ffff00;"><span class="nv">۸۷</span></div>
<div class="c n" style="left:191px;top:950px;width:48px;height:35px;background:#ffff00;"><span class="nv">۹۲</span></div>
<div class="c n" style="left:241px;top:950px;width:39px;height:35px;background:#ff9900;"><span class="nv">۱۰۱</span></div>
<div class="c n" style="left:282px;top:950px;width:57px;height:35px;background:#ffff00;"><span class="nv">۷۲</span></div>
<div class="c n" style="left:341px;top:950px;width:32px;height:35px;background:#ffff00;"><span class="nv">۹۴</span></div>
<div class="c n" style="left:375px;top:950px;width:30px;height:35px;background:#ffff00;"><span class="nv">۱۰۰</span></div>
<div class="c n" style="left:407px;top:950px;width:37px;height:35px;background:#ffff00;"><span class="nv">۷۴</span></div>
<div class="c n" style="left:446px;top:950px;width:37px;height:35px;background:#ff9900;"><span class="nv">۱۰۳</span></div>
<div class="c n" style="left:485px;top:950px;width:53px;height:35px;background:#ff9900;"><span class="nv">۱۰۵</span></div>
<div class="c n" style="left:540px;top:950px;width:40px;height:35px;background:#ff9900;"><span class="nv">۱۱۴</span></div>
<div class="c n" style="left:582px;top:950px;width:36px;height:35px;background:#ffff00;"><span class="nv">۹۷</span></div>
<div class="c n" style="left:620px;top:950px;width:46px;height:35px;background:#ff9900;"><span class="nv">۱۱۷</span></div>
<div class="c d" style="left:668px;top:950px;width:127px;height:35px;background:#fff;"><span class="dt">۱۳۹۹/۱۲/۱۲</span></div>
<div class="c n" style="left:53px;top:987px;width:47px;height:35px;background:#ffff00;"><span class="nv">۸۶</span></div>
<div class="c n" style="left:102px;top:987px;width:38px;height:35px;background:#ffff00;"><span class="nv">۸۳</span></div>
<div class="c n" style="left:142px;top:987px;width:47px;height:35px;background:#ffff00;"><span class="nv">۷۵</span></div>
<div class="c n" style="left:191px;top:987px;width:48px;height:35px;background:#ffff00;"><span class="nv">۸۴</span></div>
<div class="c n" style="left:241px;top:987px;width:39px;height:35px;background:#ffff00;"><span class="nv">۸۷</span></div>
<div class="c n" style="left:282px;top:987px;width:57px;height:35px;background:#ffff00;"><span class="nv">۷۴</span></div>
<div class="c n" style="left:341px;top:987px;width:32px;height:35px;background:#ffff00;"><span class="nv">۸۰</span></div>
<div class="c n" style="left:375px;top:987px;width:30px;height:35px;background:#ff9900;"><span class="nv">۱۰۷</span></div>
<div class="c n" style="left:407px;top:987px;width:37px;height:35px;background:#ffff00;"><span class="nv">۸۱</span></div>
<div class="c n" style="left:446px;top:987px;width:37px;height:35px;background:#ffff00;"><span class="nv">۸۹</span></div>
<div class="c n" style="left:485px;top:987px;width:53px;height:35px;background:#ffff00;"><span class="nv">۹۵</span></div>
<div class="c n" style="left:540px;top:987px;width:40px;height:35px;background:#ffff00;"><span class="nv">۷۰</span></div>
<div class="c n" style="left:582px;top:987px;width:36px;height:35px;background:#ffff00;"><span class="nv">۸۹</span></div>
<div class="c n" style="left:620px;top:987px;width:46px;height:35px;background:#ff9900;"><span class="nv">۱۰۲</span></div>
<div class="c d" style="left:668px;top:987px;width:127px;height:35px;background:#fff;"><span class="dt">۱۳۹۹/۱۲/۱۱</span></div>
<div class="c n" style="left:53px;top:1024px;width:47px;height:35px;background:#ff9900;"><span class="nv">۱۱۷</span></div>
<div class="c n" style="left:102px;top:1024px;width:38px;height:35px;background:#ff9900;"><span class="nv">۱۰۸</span></div>
<div class="c n" style="left:142px;top:1024px;width:47px;height:35px;background:#ff9900;"><span class="nv">۱۰۸</span></div>
<div class="c n" style="left:191px;top:1024px;width:48px;height:35px;background:#ff9900;"><span class="nv">۱۲۱</span></div>
<div class="c n" style="left:241px;top:1024px;width:39px;height:35px;background:#ff9900;"><span class="nv">۱۴۲</span></div>
<div class="c n" style="left:282px;top:1024px;width:57px;height:35px;background:#ffff00;"><span class="nv">۹۹</span></div>
<div class="c n" style="left:341px;top:1024px;width:32px;height:35px;background:#ff9900;"><span class="nv">۱۱۷</span></div>
<div class="c n" style="left:375px;top:1024px;width:30px;height:35px;background:#ff9900;"><span class="nv">۱۲۹</span></div>
<div class="c n" style="left:407px;top:1024px;width:37px;height:35px;background:#ff9900;"><span class="nv">۱۰۶</span></div>
<div class="c n" style="left:446px;top:1024px;width:37px;height:35px;background:#ff9900;"><span class="nv">۱۱۶</span></div>
<div class="c n" style="left:485px;top:1024px;width:53px;height:35px;background:#ff9900;"><span class="nv">۱۱۹</span></div>
<div class="c n" style="left:540px;top:1024px;width:40px;height:35px;background:#ffff00;"><span class="nv">۹۳</span></div>
<div class="c n" style="left:582px;top:1024px;width:36px;height:35px;background:#ff9900;"><span class="nv">۱۲۳</span></div>
<div class="c n" style="left:620px;top:1024px;width:46px;height:35px;background:#ff9900;"><span class="nv">۱۳۸</span></div>
<div class="c d" style="left:668px;top:1024px;width:127px;height:35px;background:#fff;"><span class="dt">۱۳۹۹/۱۲/۱۰</span></div>
<div class="vl lt" style="left:51px"></div><div class="vl dk" style="left:52px"></div>
<div class="vl lt" style="left:100px"></div><div class="vl dk" style="left:101px"></div>
<div class="vl lt" style="left:140px"></div><div class="vl dk" style="left:141px"></div>
<div class="vl lt" style="left:189px"></div><div class="vl dk" style="left:190px"></div>
<div class="vl lt" style="left:239px"></div><div class="vl dk" style="left:240px"></div>
<div class="vl lt" style="left:280px"></div><div class="vl dk" style="left:281px"></div>
<div class="vl lt" style="left:339px"></div><div class="vl dk" style="left:340px"></div>
<div class="vl lt" style="left:373px"></div><div class="vl dk" style="left:374px"></div>
<div class="vl lt" style="left:405px"></div><div class="vl dk" style="left:406px"></div>
<div class="vl lt" style="left:444px"></div><div class="vl dk" style="left:445px"></div>
<div class="vl lt" style="left:483px"></div><div class="vl dk" style="left:484px"></div>
<div class="vl lt" style="left:538px"></div><div class="vl dk" style="left:539px"></div>
<div class="vl lt" style="left:580px"></div><div class="vl dk" style="left:581px"></div>
<div class="vl lt" style="left:618px"></div><div class="vl dk" style="left:619px"></div>
<div class="vl lt" style="left:666px"></div><div class="vl dk" style="left:667px"></div>
<div class="vl" style="left:795px;background:#888"></div>
<div class="hl lt" style="top:104px"></div><div class="hl dk" style="top:105px"></div>
<div class="hl lt" style="top:246px"></div><div class="hl dk" style="top:247px"></div>
<div class="hl lt" style="top:319px"></div><div class="hl dk" style="top:320px"></div>
<div class="hl lt" style="top:356px"></div><div class="hl dk" style="top:357px"></div>
<div class="hl lt" style="top:393px"></div><div class="hl dk" style="top:394px"></div>
<div class="hl lt" style="top:430px"></div><div class="hl dk" style="top:431px"></div>
<div class="hl lt" style="top:467px"></div><div class="hl dk" style="top:468px"></div>
<div class="hl lt" style="top:504px"></div><div class="hl dk" style="top:505px"></div>
<div class="hl lt" style="top:541px"></div><div class="hl dk" style="top:542px"></div>
<div class="hl lt" style="top:578px"></div><div class="hl dk" style="top:579px"></div>
<div class="hl lt" style="top:615px"></div><div class="hl dk" style="top:616px"></div>
<div class="hl lt" style="top:652px"></div><div class="hl dk" style="top:653px"></div>
<div class="hl lt" style="top:689px"></div><div class="hl dk" style="top:690px"></div>
<div class="hl lt" style="top:726px"></div><div class="hl dk" style="top:727px"></div>
<div class="hl lt" style="top:763px"></div><div class="hl dk" style="top:764px"></div>
<div class="hl lt" style="top:800px"></div><div class="hl dk" style="top:801px"></div>
<div class="hl lt" style="top:837px"></div><div class="hl dk" style="top:838px"></div>
<div class="hl lt" style="top:874px"></div><div class="hl dk" style="top:875px"></div>
<div class="hl lt" style="top:911px"></div><div class="hl dk" style="top:912px"></div>
<div class="hl lt" style="top:948px"></div><div class="hl dk" style="top:949px"></div>
<div class="hl lt" style="top:985px"></div><div class="hl dk" style="top:986px"></div>
<div class="hl lt" style="top:1022px"></div><div class="hl dk" style="top:1023px"></div>
<div class="hl lt" style="top:1059px"></div><div class="hl dk" style="top:1060px"></div>
</div></body></html>
